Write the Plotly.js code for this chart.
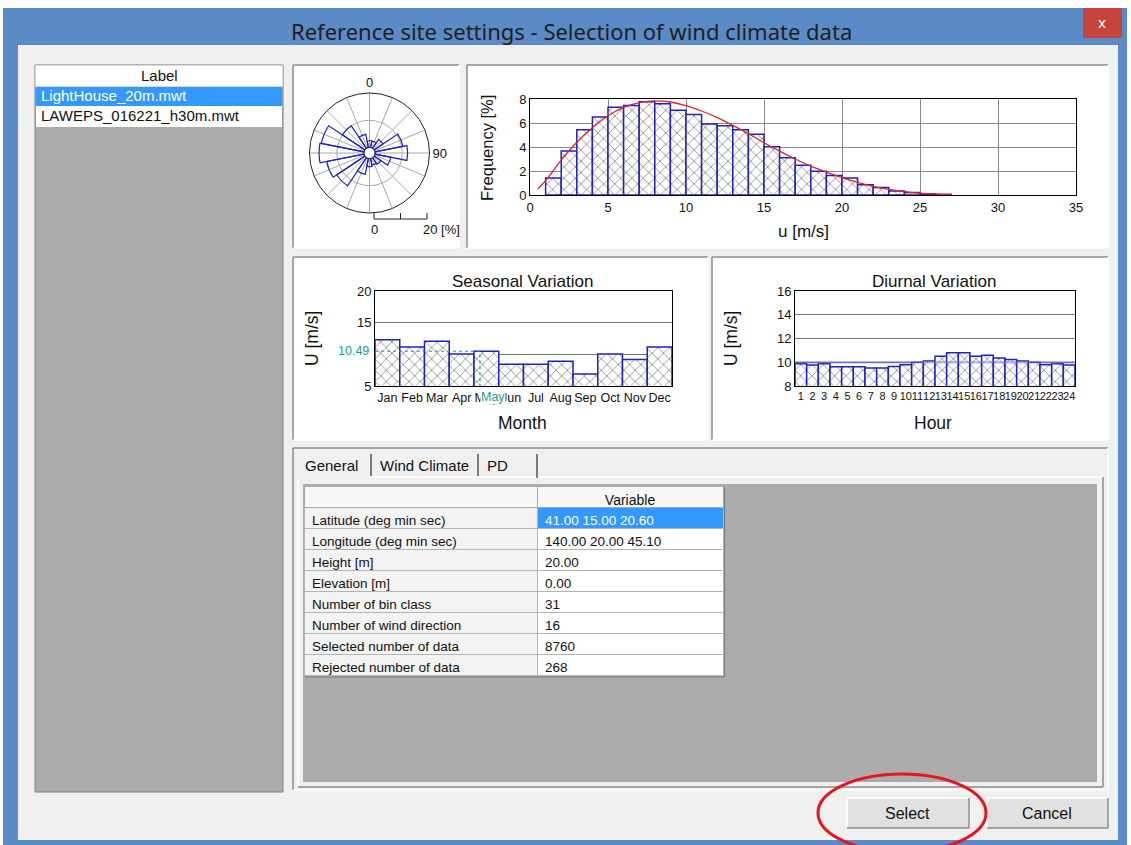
<!DOCTYPE html>
<html><head><meta charset="utf-8">
<script src="https://cdn.plot.ly/plotly-3.0.1.min.js"></script>
<style>html,body{margin:0;padding:0;background:#fff;overflow:hidden}#chart{width:1131px;height:845px}</style>
</head><body><div id="chart"></div>
<script>
// ---------------- data ----------------
const windDirections = [0,22.5,45,67.5,90,112.5,135,157.5,180,202.5,225,247.5,270,292.5,315,337.5];
const windFrequency  = [2.5,2.5,4,10.5,12,6,3,2.5,3,6,12.5,14,16.5,16,10,5];
const roseScaleTicks = [0,10,20];

const speedBins = [1.5,2.5,3.5,4.5,5.5,6.5,7.5,8.5,9.5,10.5,11.5,12.5,13.5,14.5,15.5,16.5,17.5,18.5,19.5,20.5,21.5,22.5,23.5,24.5,25.5,26.5];
const speedFrequency = [1.41,3.66,5.44,6.5,7.32,7.46,7.77,7.6,7.07,6.7,5.92,5.77,5.44,5.07,4.03,3.1,2.48,1.97,1.63,1.41,0.85,0.62,0.34,0.2,0.1,0.05];
const weibullSpeed = [0.5,1,2,3,4,5,6,7,8,9,10,11,12,13,14,15,16,17,18,19,20,21,22,23,24,25,26,27];
const weibullFrequency = [0.5,1.2,2.9,4.4,5.6,6.6,7.3,7.7,7.85,7.75,7.45,7.0,6.45,5.8,5.1,4.35,3.65,3.0,2.4,1.9,1.45,1.05,0.72,0.46,0.28,0.15,0.08,0.04];

const months = ['Jan','Feb','Mar','Apr','May','Jun','Jul','Aug','Sep','Oct','Nov','Dec'];
const monthlyMean = [12.3,11.15,12.05,10.04,10.49,8.45,8.45,8.92,6.91,10.04,9.19,11.15];
const selectedMonth = 'May';
const selectedMonthValue = 10.49;

const hours = [1,2,3,4,5,6,7,8,9,10,11,12,13,14,15,16,17,18,19,20,21,22,23,24];
const hourlyMean = [9.88,9.76,9.88,9.63,9.63,9.63,9.51,9.51,9.65,9.79,9.99,10.1,10.5,10.8,10.8,10.5,10.58,10.36,10.24,10.1,9.99,9.79,9.88,9.76];
const diurnalMean = 10.0;

const fileLabels = ['LightHouse_20m.mwt','LAWEPS_016221_h30m.mwt'];
const tabNames = ['General','Wind Climate','PD'];
const tableLabels = ['Latitude (deg min sec)','Longitude (deg min sec)','Height [m]','Elevation [m]','Number of bin class','Number of wind direction','Selected number of data','Rejected number of data'];
const tableValues = ['41.00 15.00 20.60','140.00 20.00 45.10','20.00','0.00','31','16','8760','268'];

// ---------------- helpers ----------------
const W = 1131, H = 845;
const X = p => p / W;
const Y = p => 1 - p / H;
const F = 'Liberation Sans, Arial, sans-serif';
const FN = 'Liberation Sans Narrow, Liberation Sans, sans-serif';
const shapes = [];
const annotations = [];
function rect(x0,y0,x1,y1,fill,lc,lw,layer){
  shapes.push({type:'rect',xref:'paper',yref:'paper',x0:X(x0),x1:X(x1),y0:Y(y1),y1:Y(y0),
    fillcolor:fill,line:{color:lc||'rgba(0,0,0,0)',width:lc?(lw||1):0},layer:layer||'below'});
}
function seg(x0,y0,x1,y1,color,lw,layer){
  shapes.push({type:'line',xref:'paper',yref:'paper',x0:X(x0),x1:X(x1),y0:Y(y0),y1:Y(y1),
    line:{color:color,width:lw||1},layer:layer||'below'});
}
function sunken(x0,y0,x1,y1,fill){
  rect(x0,y0,x1,y1,fill);
  seg(x0,y0,x1,y0,'#8c8c8c',1.5); seg(x0,y0,x0,y1,'#8c8c8c',1.5);
  seg(x0,y1,x1,y1,'#ffffff',1.5); seg(x1,y0,x1,y1,'#ffffff',1.5);
}
function raised(x0,y0,x1,y1,fill){
  rect(x0,y0,x1,y1,fill);
  seg(x0,y0,x1,y0,'#ffffff',1.5); seg(x0,y0,x0,y1,'#ffffff',1.5);
  seg(x0,y1,x1,y1,'#8c8c8c',1.5); seg(x1,y0,x1,y1,'#8c8c8c',1.5);
}
function ann(text,x,y,o){
  o = o || {};
  annotations.push(Object.assign({text:text,xref:'paper',yref:'paper',x:X(x),y:Y(y),showarrow:false,
    xanchor:'center',yanchor:'middle',font:{family:F,size:14,color:'#111'}},o));
}

// ---------------- window chrome ----------------
rect(3,8,1127,845,'#5a8bc6');
rect(18,45,1118,840,'#f0f0f0');
rect(1083,8,1122,38,'#c7443c');
ann('Reference site settings - Selection of wind climate data',571,31,{font:{family:'Noto Sans, Open Sans, sans-serif',size:22,color:'#1e1e1e'}});
ann('x',1102,22,{font:{family:'Noto Sans, sans-serif',size:15,color:'#ffffff'}});

// left list
rect(35,65,283,792,'#ababab','#828282',1);
rect(35,65,283,87,'#ffffff','#b0b0b0',1);
rect(36,87,282,106,'#3399ff');
rect(36,106,282,127,'#ffffff');
ann('Label',159,75,{font:{family:F,size:15,color:'#111'}});
fileLabels.forEach((t,i)=>ann(t,39,96+i*20,{xanchor:'left',font:{family:F,size:15,color:i===0?'#ffffff':'#111'}}));

// chart panels
sunken(293,65,459,248,'#ffffff');
sunken(467,65,1108,248,'#ffffff');
sunken(293,257,708,440,'#ffffff');
sunken(712,257,1108,440,'#ffffff');

// tab control
sunken(293,448,1108,790,'#f0f0f0');
raised(298,477,1103,787,'#f0f0f0');
rect(303,484,1097,782,'#ababab');
rect(297,451,370,478,'#f0f0f0');
seg(371,454,371,476,'#555',1.5);
seg(478,454,478,476,'#555',1.5);
seg(537,454,537,478,'#555',1.5);
const tabX = [331,424,497];
tabNames.forEach((t,i)=>ann(t,tabX[i],465,{font:{family:F,size:15,color:'#111'}}));
seg(724,487,724,677,'#7a7a7a',2);
seg(305,677,724,677,'#7a7a7a',1);

// buttons
raised(847,798,969,828,'#e1e1e1');
raised(987,798,1108,828,'#e1e1e1');
ann('Select',907,813,{font:{family:F,size:16,color:'#111'}});
ann('Cancel',1047,813,{font:{family:F,size:16,color:'#111'}});

// wind-rose scale bar
const sbx0 = 374, sbx1 = 427, sby = 219;
seg(sbx0,sby,sbx1,sby,'#222',1);
roseScaleTicks.forEach(v=>{const xx = sbx0 + (sbx1-sbx0)*v/20; seg(xx,sby,xx,sby-6,'#222',1);});
ann('0',374,229,{font:{family:F,size:13,color:'#111'}});
ann('20 [%]',421,229,{xanchor:'left',font:{family:F,size:13,color:'#111'}});
// rose centre hole outline
shapes.push({type:'circle',xref:'paper',yref:'paper',x0:X(364),x1:X(375),y0:Y(158.5),y1:Y(147.5),fillcolor:'#ffffff',line:{color:'#222',width:1},layer:'above'});

// chart titles
ann('Frequency [%]',487,148,{textangle:-90,font:{family:F,size:16.5,color:'#111'}});
ann('u [m/s]',803,231,{font:{family:F,size:17,color:'#111'}});
ann('Seasonal Variation',522,281,{font:{family:F,size:17,color:'#111'}});
ann('U [m/s]',312,339,{textangle:-90,font:{family:F,size:17.5,color:'#111'}});
ann('Month',522,423,{font:{family:F,size:17.5,color:'#111'}});
ann('Diurnal Variation',934,281,{font:{family:F,size:17,color:'#111'}});
ann('U [m/s]',731,339,{textangle:-90,font:{family:F,size:17.5,color:'#111'}});
ann('Hour',933,423,{font:{family:F,size:17.5,color:'#111'}});

// selected month marker labels
const selIdx = months.indexOf(selectedMonth);
annotations.push({text:selectedMonthValue.toFixed(2),xref:'paper',yref:'y2',x:X(371),y:selectedMonthValue,xanchor:'right',yanchor:'middle',showarrow:false,font:{family:F,size:12.5,color:'#1f9a9a'}});
annotations.push({text:selectedMonth,xref:'x2',yref:'paper',x:selIdx+0.28,y:Y(397),xanchor:'center',yanchor:'middle',showarrow:false,bgcolor:'#ffffff',borderpad:0,font:{family:F,size:12.5,color:'#1f9a9a'}});

// red highlight ellipse
shapes.push({type:'circle',xref:'paper',yref:'paper',x0:X(818),x1:X(986),y0:Y(852),y1:Y(774),line:{color:'#e8141b',width:3},fillcolor:'rgba(0,0,0,0)',layer:'above'});

// ---------------- traces ----------------
const hatch = {shape:'x',fgcolor:'#5a5a5a',bgcolor:'#ffffff',size:8,solidity:0.14};
const blue = '#2222b8';
const traces = [
  {type:'barpolar',r:windFrequency,theta:windDirections,width:22.5,subplot:'polar',
   marker:{color:'rgba(255,255,255,0)',line:{color:blue,width:1.2}},hoverinfo:'skip'},
  {type:'bar',x:speedBins,y:speedFrequency,width:1,xaxis:'x',yaxis:'y',
   marker:{color:'#ffffff',pattern:hatch,line:{color:blue,width:1.5}},hoverinfo:'skip'},
  {type:'scatter',mode:'lines',x:weibullSpeed,y:weibullFrequency,xaxis:'x',yaxis:'y',
   line:{color:'#e02424',width:1.3,shape:'spline'},hoverinfo:'skip'},
  {type:'bar',x:months.map((m,i)=>i),y:monthlyMean,width:1,xaxis:'x2',yaxis:'y2',
   marker:{color:'#ffffff',pattern:hatch,line:{color:blue,width:1.5}},hoverinfo:'skip'},
  {type:'scatter',mode:'lines',x:[-0.5,selIdx-0.26,selIdx-0.26],y:[selectedMonthValue,selectedMonthValue,5],
   xaxis:'x2',yaxis:'y2',line:{color:'#1f9a9a',width:1.2,dash:'dot'},hoverinfo:'skip'},
  {type:'bar',x:hours,y:hourlyMean,width:1,xaxis:'x3',yaxis:'y3',
   marker:{color:'#ffffff',pattern:hatch,line:{color:blue,width:1.5}},hoverinfo:'skip'},
  {type:'scatter',mode:'lines',x:[hours[0]-0.5,hours[hours.length-1]+0.5],y:[diurnalMean,diurnalMean],
   xaxis:'x3',yaxis:'y3',line:{color:'rgba(110,110,230,0.5)',width:2.5},hoverinfo:'skip'},
  {type:'table',domain:{x:[X(304),X(723)],y:[Y(676),Y(486)]},columnwidth:[233,186],
   header:{values:['','Variable'],height:21,align:['left','center'],
     fill:{color:'#f7f7f7'},line:{color:'#a8a8a8',width:1},font:{family:F,size:14,color:'#111'}},
   cells:{values:[tableLabels,tableValues],height:21,align:'left',
     fill:{color:[tableLabels.map(()=> '#f3f3f3'),tableValues.map((v,i)=> i===0?'#3399ff':'#ffffff')]},
     line:{color:'#b4b4b4',width:1},
     font:{family:F,size:[13.5,13.5],color:[tableLabels.map(()=> '#111'),tableValues.map((v,i)=> i===0?'#ffffff':'#111')]}}}
];

const axBase = {showline:true,mirror:true,linecolor:'#000',linewidth:1,ticks:'',zeroline:false,
  tickfont:{family:F,size:13,color:'#111'},fixedrange:true};

const layout = {
  width:W,height:H,margin:{l:0,r:0,t:0,b:0},paper_bgcolor:'#ffffff',plot_bgcolor:'rgba(0,0,0,0)',
  showlegend:false,bargap:0,barmode:'overlay',
  polar:{domain:{x:[X(309.5),X(429.5)],y:[Y(213),Y(93)]},bgcolor:'rgba(0,0,0,0)',hole:0.09,
    angularaxis:{rotation:90,direction:'clockwise',tickmode:'array',tickvals:windDirections,
      ticktext:windDirections.map(d=> d===0?'0':(d===90?'90':'')),ticks:'',showline:true,linecolor:'#222',linewidth:1,
      gridcolor:'#a8a8a8',tickfont:{family:F,size:13,color:'#111'}},
    radialaxis:{range:[0,20],tickvals:[10],showticklabels:false,ticks:'',showline:false,gridcolor:'#a8a8a8'}},
  xaxis:Object.assign({},axBase,{domain:[X(530),X(1076)],range:[0,35],dtick:5,tick0:0,showgrid:true,gridcolor:'#8a8a8a',anchor:'y'}),
  yaxis:Object.assign({},axBase,{domain:[Y(195),Y(99)],range:[0,8],dtick:2,tick0:0,showgrid:true,gridcolor:'#8a8a8a',anchor:'x'}),
  xaxis2:Object.assign({},axBase,{domain:[X(375),X(672)],range:[-0.5,11.5],tickmode:'array',tickvals:months.map((m,i)=>i),ticktext:months,tickangle:0,showgrid:false,anchor:'y2',tickfont:{family:FN,size:12.5,color:'#111'}}),
  yaxis2:Object.assign({},axBase,{domain:[Y(386),Y(291)],range:[5,20],tickmode:'array',tickvals:[5,10,15,20],ticktext:['5','','15','20'],showgrid:true,gridcolor:'#707070',anchor:'x2'}),
  xaxis3:Object.assign({},axBase,{domain:[X(795),X(1075)],range:[0.5,24.5],tickmode:'array',tickvals:hours,tickangle:0,showgrid:false,anchor:'y3',tickfont:{family:FN,size:11,color:'#111'}}),
  yaxis3:Object.assign({},axBase,{domain:[Y(386),Y(291)],range:[8,16],dtick:2,tick0:8,showgrid:true,gridcolor:'#707070',anchor:'x3'}),
  shapes:shapes,annotations:annotations
};

Plotly.newPlot('chart',traces,layout,{staticPlot:true,displayModeBar:false});
</script>
</body></html>
